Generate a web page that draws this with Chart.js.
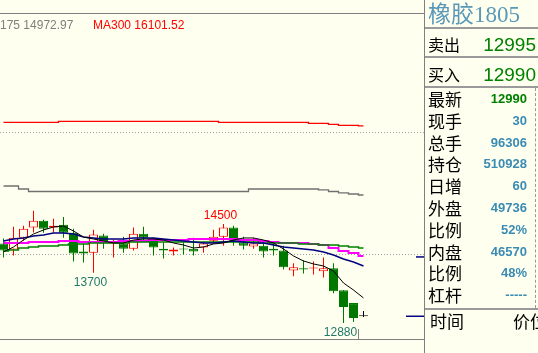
<!DOCTYPE html>
<html>
<head>
<meta charset="utf-8">
<script src="https://cdn.jsdelivr.net/npm/chart.js@4.4.1/dist/chart.umd.min.js"></script>
<style>
    body { margin: 0; background: #FFFFEF; }
    #wrap { position: relative; width: 538px; height: 353px; overflow: hidden; background: #FFFFEF;
            font-family: "Liberation Sans", Arial, sans-serif; }
    #kline { position: absolute; left: 0; top: 0; }
    .line { position: absolute; background: #808080; }
    .legend { position: absolute; top: 19px; font-size: 12px; line-height: 12px; white-space: nowrap; }
    .cn { position: absolute; font-family: "Noto Sans CJK SC", sans-serif; color: #000; white-space: nowrap; }
    .num { position: absolute; white-space: nowrap; text-align: right; }
</style>
</head>
<body>
<div id="wrap">
    <canvas id="kline" width="425" height="353"></canvas>

    <!-- 图表边框 -->
    <div class="line" style="left:0;top:13px;width:424px;height:1px"></div>
    <div class="line" style="left:0;top:339px;width:424px;height:1px"></div>
    <div class="line" style="left:424px;top:0;width:1px;height:353px"></div>

    <!-- 均线图例 -->
    <div class="legend" style="left:0;color:#808080">175 14972.97</div>
    <div class="legend" style="left:93px;color:#ff0000">MA300 16101.52</div>

    <!-- 右侧报价栏 -->
    <div id="panel"></div>
</div>

<script>
// K线数据 (开 高 低 收)
const opens  = [14180,14080,14275,14440,14550,14440,14485,14355,14050,14030,14310,14180,14180,14095,14340,14260,14095,14050,14095,14095,14115,14225,14290,14440,14195,14130,14145,14095,14065,13740,13775,13770,13725,13775,13415,13205,12990];
const highs  = [14260,14455,14470,14715,14570,14585,14615,14420,14180,14405,14340,14245,14290,14440,14455,14275,14195,14115,14195,14275,14210,14405,14500,14470,14290,14275,14225,14180,14145,13855,13905,13885,13950,13855,13415,13205,13075];
const lows   = [13950,13985,14225,14360,14355,14355,14275,13885,13870,13700,14095,13950,14030,14065,14225,13985,13935,13985,14000,13985,14030,14180,14145,14145,14080,14095,13950,13985,13755,13645,13690,13675,13625,13365,12880,12895,12980];
const closes = [14065,14275,14420,14550,14420,14470,14355,14015,14015,14325,14180,14210,14095,14340,14275,14115,14065,14080,14080,14050,14180,14290,14440,14225,14145,14180,14050,14065,13790,13790,13755,13775,13775,13400,13140,12960,12990];

// 均线
const ma5    = [14041,14123,14237,14335,14401,14450,14466,14384,14286,14253,14221,14188,14188,14237,14253,14253,14237,14188,14155,14106,14123,14172,14188,14237,14270,14270,14237,14188,14090,13976,13894,13845,13812,13730,13534,13419,13289];
const ma10   = [14221,14253,14270,14302,14319,14352,14352,14335,14286,14270,14253,14253,14253,14270,14270,14270,14253,14237,14221,14204,14188,14188,14204,14221,14204,14188,14188,14155,14123,14106,14090,14074,14041,13992,13926,13877,13812];
const maGreen   = [14057,14074,14106,14123,14139,14139,14155,14172,14172,14188,14188,14188,14188,14204,14204,14204,14204,14204,14204,14204,14204,14204,14204,14204,14204,14204,14188,14188,14188,14188,14172,14172,14155,14155,14139,14123,14106];
const maMagenta = [14188,14188,14188,14204,14204,14204,14221,14221,14204,14204,14204,14204,14221,14221,14221,14237,14237,14237,14237,14253,14253,14253,14253,14253,14237,14237,14221,14204,14188,14188,14188,14172,14155,14106,14057,14025,13976];
const ma175  = [15120,15120,15071,15030,15030,15030,15030,15030,15030,15030,15030,15030,15030,15030,15030,15030,15030,15030,15030,15030,15030,15030,15030,15030,15030,15071,15071,15071,15071,15071,15071,15071,15055,15030,15006,14989,14972.97];
const ma300  = [16161,16161,16161,16161,16161,16161,16178,16178,16178,16178,16178,16178,16178,16178,16178,16178,16178,16178,16178,16178,16178,16178,16161,16161,16161,16161,16161,16161,16161,16161,16161,16145,16145,16129,16112,16112,16101.52];

// 参考线与标注
const gridLevels = [16000, 14000];
const noteIndex = [23, 10, 35];
const noteText = ['14500', '13700', '12880'];
const rightMarks = [13960, 12990];

// 报价栏
const quoteLabels = ['卖出', '买入'];
const quoteValues = ['12995', '12990'];
const infoLabels = ['最新', '现手', '总手', '持仓', '日增', '外盘', '比例', '内盘', '比例', '杠杆'];
const infoValues = ['12990', '30', '96306', '510928', '60', '49736', '52%', '46570', '48%', '-----'];

const BG = '#FFFFEF';
const UP = '#ff0000';
const DOWN = '#007800';

function candleColor(i) {
    if (closes[i] > opens[i]) return UP;
    if (closes[i] < opens[i]) return DOWN;
    return '#000000';
}

function toPoints(arr) {
    return arr.map((v, i) => ({ x: i + 1, y: v }));
}

function maLine(data, color, width, stepped) {
    return {
        type: 'line',
        data: toPoints(data),
        borderColor: color,
        borderWidth: width,
        pointRadius: 0,
        tension: 0,
        fill: false,
        stepped: stepped ? 'middle' : false,
        order: 0
    };
}

// 参考虚线、标注文字
const decorPlugin = {
    id: 'decor',
    beforeDatasetsDraw(chart) {
        const { ctx, chartArea, scales: { y } } = chart;
        ctx.save();
        ctx.strokeStyle = '#a0a0a0';
        ctx.lineWidth = 1;
        ctx.setLineDash([1, 2]);
        gridLevels.forEach(v => {
            const py = Math.round(y.getPixelForValue(v)) + 0.5;
            ctx.beginPath();
            ctx.moveTo(chartArea.left, py);
            ctx.lineTo(chartArea.right, py);
            ctx.stroke();
        });
        ctx.restore();
    },
    afterDatasetsDraw(chart) {
        const { ctx, chartArea, scales: { x, y } } = chart;
        ctx.save();
        ctx.font = '12px "Liberation Sans", Arial, sans-serif';
        ctx.textAlign = 'center';
        noteIndex.forEach((idx, k) => {
            const i = idx - 1;
            const px = x.getPixelForValue(idx) - 3;
            if (k === 0) {
                ctx.fillStyle = '#ff0000';
                ctx.fillText(noteText[k], px, y.getPixelForValue(highs[i]) - 4.5);
            } else {
                ctx.fillStyle = '#207868';
                const base = y.getPixelForValue(lows[i]) + 13;
                ctx.fillText(noteText[k], px, base);
                if (k === 2) {
                    const tx = Math.round(px + ctx.measureText(noteText[k]).width / 2) + 1.5;
                    ctx.strokeStyle = '#808080';
                    ctx.lineWidth = 1;
                    ctx.beginPath();
                    ctx.moveTo(tx, base - 7);
                    ctx.lineTo(tx, 339);
                    ctx.stroke();
                }
            }
        });
        // 右侧价格短线
        ctx.strokeStyle = '#000080';
        ctx.lineWidth = 1.5;
        rightMarks.forEach((v, k) => {
            const py = y.getPixelForValue(v);
            ctx.beginPath();
            ctx.moveTo(chartArea.right - (k === 0 ? 9 : 19), py);
            ctx.lineTo(chartArea.right, py);
            ctx.stroke();
        });
        ctx.restore();
    }
};

function renderChart() {
    const colors = opens.map((o, i) => candleColor(i));
    const bodyFill = colors.map(c => c === UP ? BG : c);

    new Chart(document.getElementById('kline'), {
        type: 'bar',
        data: {
            datasets: [
                maLine(ma5, '#000000', 1, false),
                maLine(ma10, '#000080', 1.5, false),
                maLine(maGreen, '#008000', 1.5, true),
                maLine(maMagenta, '#ff00ff', 2, true),
                maLine(ma175, '#707070', 1.3, true),
                maLine(ma300, '#ff0000', 1.3, true),
                {
                    // 实体
                    data: opens.map((o, i) => ({ x: i + 1, y: [Math.min(o, closes[i]), Math.max(o, closes[i])] })),
                    backgroundColor: bodyFill,
                    borderColor: colors,
                    borderWidth: 1,
                    borderSkipped: false,
                    barThickness: 9,
                    minBarLength: 1,
                    inflateAmount: 0,
                    grouped: false,
                    order: 1
                },
                {
                    // 影线
                    data: lows.map((l, i) => ({ x: i + 1, y: [l, highs[i]] })),
                    backgroundColor: colors,
                    borderWidth: 0,
                    barThickness: 1,
                    inflateAmount: 0,
                    grouped: false,
                    order: 2
                }
            ]
        },
        options: {
            responsive: false,
            animation: false,
            devicePixelRatio: 1,
            events: [],
            layout: { padding: 0 },
            plugins: { legend: { display: false }, tooltip: { enabled: false } },
            scales: {
                x: { type: 'linear', min: 0.65, max: 43.15, offset: false, display: false },
                y: { type: 'linear', min: 12389.5, max: 18161, display: false }
            }
        },
        plugins: [decorPlugin]
    });
}

function renderPanel() {
    const panel = document.getElementById('panel');
    let html = '';
    html += '<div class="cn" style="left:428px;top:3px;font-size:23px;line-height:23px;color:#5a98b8;font-family:\'Liberation Serif\',\'Noto Sans CJK SC\',serif">橡胶1805</div>';
    [27, 56, 86, 308].forEach(t => {
        html += `<div class="line" style="left:425px;top:${t}px;width:113px;height:2px;background:#9a9a9a"></div>`;
    });
    html += '<div style="position:absolute;left:535px;top:88px;height:220px;border-left:1px dashed #999"></div>';

    quoteLabels.forEach((label, k) => {
        const c = 44 + k * 30;
        html += `<div class="cn" style="left:428px;top:${c - 8}px;font-size:16px;line-height:16px">${label}</div>`;
        html += `<div class="num" style="right:2px;top:${c - 9}px;font-size:19px;line-height:19px;color:#008000">${quoteValues[k]}</div>`;
    });

    infoLabels.forEach((label, k) => {
        const c = 99 + k * 21.8;
        const color = k === 0 ? '#008000' : '#3a8cb4';
        html += `<div class="cn" style="left:428px;top:${c - 9}px;font-size:17px;line-height:17px">${label}</div>`;
        html += `<div class="num" style="right:11px;top:${c - 7}px;font-size:13px;line-height:13px;font-weight:bold;color:${color}">${infoValues[k]}</div>`;
    });

    html += '<div class="cn" style="left:430px;top:312px;font-size:17px;line-height:17px">时间</div>';
    html += '<div class="cn" style="left:513px;top:312px;font-size:17px;line-height:17px">价位</div>';
    panel.innerHTML = html;
}

renderChart();
renderPanel();
</script>
</body>
</html>
